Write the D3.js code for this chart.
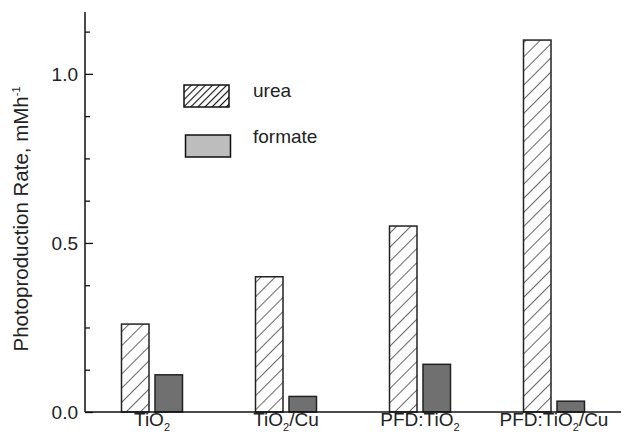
<!DOCTYPE html>
<html><head><meta charset="utf-8">
<script src="https://cdn.jsdelivr.net/npm/d3@7"></script>
<style>body{margin:0;background:#fff}svg{display:block;font-family:"Liberation Sans",Arial,sans-serif}</style>
</head><body>
<svg id="c" width="629" height="439"></svg>
<script>
const categories = ["TiO2", "TiO2/Cu", "PFD:TiO2", "PFD:TiO2/Cu"];
const categoryLabels = [
  [["TiO",""],["2","sub"]],
  [["TiO",""],["2","sub"],["/Cu",""]],
  [["PFD:TiO",""],["2","sub"]],
  [["PFD:TiO",""],["2","sub"],["/Cu",""]]
];
const urea = [0.26, 0.40, 0.55, 1.10];
const formate = [0.11, 0.046, 0.141, 0.032];
const majorTicks = [0.0, 0.5, 1.0];
const minorTicks = [0.125, 0.25, 0.375, 0.625, 0.75, 0.875, 1.125];
const seriesNames = ["urea", "formate"];

const svg = d3.select("#c");
const x0 = 85, x1 = 621, yTop = 12, yBot = 412;
const y = d3.scaleLinear().domain([0, 1.183]).range([yBot, yTop]);
const x = d3.scaleBand().domain(categories).range([x0, x1]).padding(0);
const FS = 19;

const defs = svg.append("defs");
const p1 = defs.append("pattern").attr("id","hb").attr("patternUnits","userSpaceOnUse")
  .attr("width",10).attr("height",10).attr("patternTransform","rotate(45)");
p1.append("rect").attr("width",10).attr("height",10).attr("fill","#fff");
p1.append("line").attr("x1",0).attr("y1",0).attr("x2",0).attr("y2",10).attr("stroke","#555").attr("stroke-width",1.8);
const p2 = defs.append("pattern").attr("id","hl").attr("patternUnits","userSpaceOnUse")
  .attr("width",5).attr("height",5).attr("patternTransform","rotate(45)");
p2.append("rect").attr("width",5).attr("height",5).attr("fill","#fff");
p2.append("line").attr("x1",0).attr("y1",0).attr("x2",0).attr("y2",5).attr("stroke","#111").attr("stroke-width",2.2);

const bw = 27.5, gap = 6;
const g = svg.append("g");
g.selectAll(".u").data(urea).join("rect")
  .attr("x",(d,i)=>x(categories[i])+x.bandwidth()/2 - gap/2 - bw)
  .attr("y",d=>y(d)).attr("width",bw).attr("height",d=>yBot-y(d))
  .attr("fill","url(#hb)").attr("stroke","#222").attr("stroke-width",1.5);
g.selectAll(".f").data(formate).join("rect")
  .attr("x",(d,i)=>x(categories[i])+x.bandwidth()/2 + gap/2)
  .attr("y",d=>y(d)).attr("width",bw).attr("height",d=>yBot-y(d))
  .attr("fill","#707070").attr("stroke","#222").attr("stroke-width",1.5);

// axes
const ya = svg.append("g").attr("transform",`translate(${x0},0)`)
  .call(d3.axisRight(y).tickValues(majorTicks).tickSize(8).tickFormat(""));
ya.select(".domain").attr("d",`M0,${yTop}V${yBot}`).attr("stroke","#111").attr("stroke-width",1.5);
ya.selectAll(".tick line").attr("stroke","#111").attr("stroke-width",1.3);
const ym = svg.append("g").attr("transform",`translate(${x0},0)`)
  .call(d3.axisRight(y).tickValues(minorTicks).tickSize(5).tickFormat(""));
ym.select(".domain").remove();
ym.selectAll(".tick line").attr("stroke","#111").attr("stroke-width",1.3);
svg.selectAll(".ylab").data(majorTicks).join("text")
  .attr("x",x0-7).attr("y",d=>y(d)+7).attr("text-anchor","end")
  .attr("font-size",FS).attr("fill","#222").text(d=>d.toFixed(1));

svg.append("line").attr("x1",x0).attr("x2",x1).attr("y1",yBot).attr("y2",yBot)
  .attr("stroke","#111").attr("stroke-width",1.5);

// x labels
categories.forEach((c,i)=>{
  const t = svg.append("text").attr("x",x(c)+x.bandwidth()/2).attr("y",431)
    .attr("text-anchor","middle").attr("font-size",FS).attr("fill","#222");
  categoryLabels[i].forEach(([s,type])=>{
    if(type==="sub") t.append("tspan").attr("font-size",11).attr("dy",5).text(s);
    else t.append("tspan").attr("dy", t.selectAll("tspan").size() ? -5 : 0).text(s);
  });
});

// y label
svg.append("text").attr("transform","translate(28,219) rotate(-90)")
  .attr("text-anchor","middle").attr("font-size",20.5).attr("fill","#222")
  .call(t=>{t.append("tspan").text("Photoproduction Rate, mMh");
    t.append("tspan").attr("font-size",11).attr("dy",-8).text("-1");});

// legend
const lg = svg.append("g");
lg.selectAll("rect").data(seriesNames).join("rect")
  .attr("x",(d,i)=>184+i*1.5).attr("y",(d,i)=>85+i*50).attr("width",45).attr("height",22)
  .attr("fill",(d,i)=>i===0?"url(#hl)":"#bdbdbd").attr("stroke","#111").attr("stroke-width",1.5);
lg.selectAll("text").data(seriesNames).join("text")
  .attr("x",253).attr("y",(d,i)=>97+i*46).attr("font-size",FS).attr("fill","#222").text(d=>d);
</script>
</body></html>
